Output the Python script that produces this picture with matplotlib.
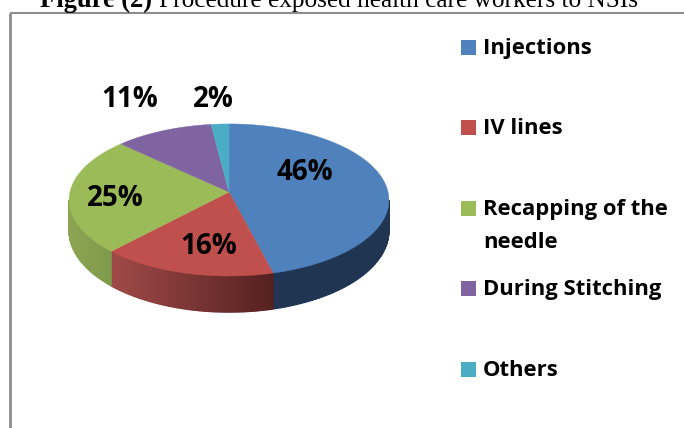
import numpy as np
import matplotlib
matplotlib.use("Agg")
import matplotlib.pyplot as plt
from matplotlib.colors import to_rgb

# ---- data ----
categories = ["Injections", "IV lines", "Recapping of the\nneedle", "During Stitching", "Others"]
values = [46, 16, 25, 11, 2]
labels = ["46%", "16%", "25%", "11%", "2%"]
colors = ["#4f81bd", "#c0504d", "#9bbb59", "#8064a2", "#4bacc6"]
# side wall shade: colour at the left and right end of each visible wall
side_left = ["#1f3552", "#a04a48", "#8ba552", "#5c4776", "#357a8c"]
side_right = ["#1f3552", "#552120", "#7f9a4c", "#5c4776", "#357a8c"]

# ---- layout in image pixels ----
W, H = 684, 428
CX, CY = 229, 192     # apex of the pie
RX, RY = 159, 75.2
K = 0.105             # perspective
LABEL_POS = [(305, 172), (209, 246), (115, 198), (130, 99), (213, 99)]
LEGEND_Y = [47, 127, 208, 288, 369]
LEGEND_FONT = 15.8
LABEL_FONT = 20


def project(theta):
    """theta clockwise from 12 o'clock, radians -> image pixels"""
    u, v = np.sin(theta), -np.cos(theta)
    f = 1.0 / (1.0 - K * v)
    return CX + RX * u * f, CY + RY * v * f


def side_depth(theta):
    return 30.0 - 6.0 * np.cos(theta)


fig = plt.figure(figsize=(W / 100, H / 100), dpi=100)
ax = fig.add_axes([0, 0, 1, 1])
ax.set_xlim(0, W)
ax.set_ylim(H, 0)
ax.axis("off")

# frame (cut off by the page)
ax.plot([10, 10], [H, 13], color="#8c8c8c", lw=2, solid_capstyle="butt")
ax.plot([10, W], [13, 13], color="#8c8c8c", lw=1.5, solid_capstyle="butt")

# title, top of the page crops it
ax.text(40, 7, "Figure (2)", family="Liberation Serif", weight="bold", fontsize=19.1, va="baseline")
ax.text(159, 7, "Procedure exposed health care workers to NSIs",
        family="Liberation Serif", fontsize=18.2, va="baseline")

# side wall, then top faces
edges = np.cumsum([0] + values) / sum(values) * 2 * np.pi
for i in range(len(values)):
    t = np.linspace(edges[i], edges[i + 1], 120)
    xs, ys = project(t)
    keep = ys >= 199  # only the near part is seen
    if keep.sum() < 2:
        continue
    t, xs, ys = t[keep], xs[keep], ys[keep]
    c0, c1 = np.array(to_rgb(side_left[i])), np.array(to_rgb(side_right[i]))
    for j in range(len(t) - 1):
        s = (xs[j] - xs.min()) / max(xs.max() - xs.min(), 1)
        col = c0 + (c1 - c0) * s
        d0, d1 = side_depth(t[j]), side_depth(t[j + 1])
        ax.fill([xs[j], xs[j + 1], xs[j + 1], xs[j]],
                [ys[j], ys[j + 1], ys[j + 1] + d1, ys[j] + d0],
                color=col, lw=1, zorder=2)

for i in range(len(values)):
    t = np.linspace(edges[i], edges[i + 1], 160)
    xs, ys = project(t)
    ax.fill(np.r_[CX, xs], np.r_[CY, ys], color=colors[i], lw=0.3, zorder=3)

# data labels
for lab, (x, y) in zip(labels, LABEL_POS):
    ax.text(x, y, lab, family="Open Sans", weight="bold", fontsize=LABEL_FONT, color="black",
            ha="center", va="center", zorder=5)

# legend
for name, col, y in zip(categories, colors, LEGEND_Y):
    ax.fill([461, 476, 476, 461], [y - 7.5, y - 7.5, y + 7.5, y + 7.5], color=col, lw=0)
    for k, line in enumerate(name.split("\n")):
        ax.text(483, y + 1 + k * 33, line, family="Open Sans", weight="bold", fontsize=LEGEND_FONT, va="center")

fig.savefig("out.png", dpi=100)
